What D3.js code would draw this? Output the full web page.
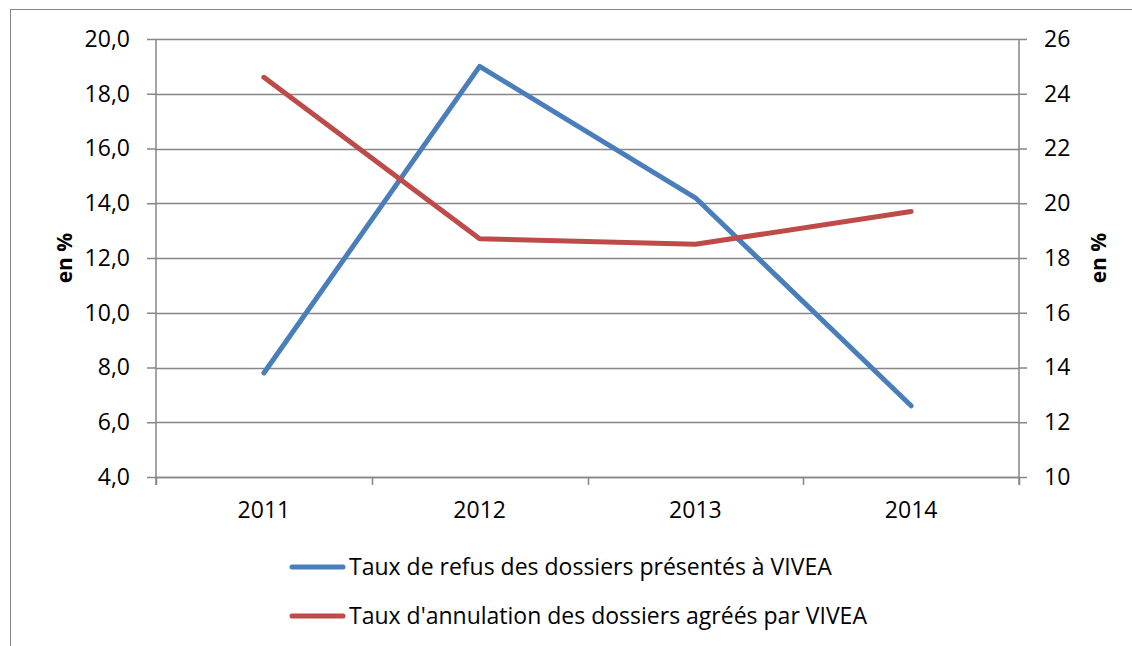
<!DOCTYPE html>
<html>
<head>
<meta charset="utf-8">
<script src="https://cdn.jsdelivr.net/npm/d3@7"></script>
<style>
  html, body { margin: 0; padding: 0; background: #fff; }
  svg { display: block; font-family: "Open Sans", sans-serif; }
</style>
</head>
<body>
<svg id="chart" width="1132" height="646"></svg>
<script>
// years on the x axis
const years = ["2011", "2012", "2013", "2014"];
// left axis series (en %)
const refus = [7.8, 19.0, 14.2, 6.6];
// right axis series (en %)
const annulation = [24.6, 18.7, 18.5, 19.7];
const leftTicks = [4, 6, 8, 10, 12, 14, 16, 18, 20];
const rightTicks = [10, 12, 14, 16, 18, 20, 22, 24, 26];
const seriesNames = [
  "Taux de refus des dossiers présentés à VIVEA",
  "Taux d'annulation des dossiers agréés par VIVEA",
];

const blue = "#4a7ebb";
const red = "#be4b48";
const gridColor = "#868686";

const svg = d3.select("#chart");
const plot = { left: 156, top: 39, right: 1019, bottom: 477 };

// outer frame of the chart area
svg.append("rect")
  .attr("x", 10.5).attr("y", 9.5)
  .attr("width", 1140).attr("height", 660)
  .attr("fill", "none")
  .attr("stroke", gridColor)
  .attr("stroke-width", 1);

const x = d3.scaleBand().domain(years).range([plot.left, plot.right]);
const yL = d3.scaleLinear().domain([4, 20]).range([plot.bottom, plot.top]);
const yR = d3.scaleLinear().domain([10, 26]).range([plot.bottom, plot.top]);

// horizontal gridlines
svg.append("g")
  .selectAll("line")
  .data(leftTicks)
  .enter()
  .append("line")
  .attr("x1", plot.left)
  .attr("x2", plot.right)
  .attr("y1", (d) => Math.round(yL(d)) + 0.5)
  .attr("y2", (d) => Math.round(yL(d)) + 0.5)
  .attr("stroke", gridColor)
  .attr("stroke-width", 1.5);

const fmt = (d) => d.toFixed(1).replace(".", ",");

// left axis
const leftAxis = svg.append("g")
  .attr("transform", `translate(${plot.left},0)`)
  .call(d3.axisLeft(yL).tickValues(leftTicks).tickFormat(fmt).tickSize(9).tickPadding(17));

// right axis
const rightAxis = svg.append("g")
  .attr("transform", `translate(${plot.right},0)`)
  .call(d3.axisRight(yR).tickValues(rightTicks).tickFormat(d3.format("d")).tickSize(8).tickPadding(17));

// bottom axis: ticks at category boundaries
const bottomAxis = svg.append("g")
  .attr("transform", `translate(0,${plot.bottom})`)
  .call(d3.axisBottom(x).tickSize(0).tickPadding(25));

svg.append("g")
  .selectAll("line")
  .data(years.map((d) => x(d)).concat([plot.right]))
  .enter()
  .append("line")
  .attr("x1", (d) => Math.round(d) + 0.5)
  .attr("x2", (d) => Math.round(d) + 0.5)
  .attr("y1", plot.bottom)
  .attr("y2", plot.bottom + 8)
  .attr("stroke", gridColor)
  .attr("stroke-width", 1.5);

[leftAxis, rightAxis, bottomAxis].forEach((g) => {
  g.selectAll(".domain").attr("stroke", gridColor).attr("stroke-width", 1.5);
  g.selectAll(".tick line").attr("stroke", gridColor).attr("stroke-width", 1.5);
  g.selectAll("text").attr("font-size", 23).attr("fill", "#000")
    .attr("font-family", "'Open Sans', sans-serif");
});
leftAxis.select(".domain").attr("d", `M0,${plot.top}V${plot.bottom + 8}`);
rightAxis.select(".domain").attr("d", `M0,${plot.top}V${plot.bottom + 8}`);

// axis titles
svg.append("text")
  .attr("transform", `translate(72,${(plot.top + plot.bottom) / 2}) rotate(-90)`)
  .attr("text-anchor", "middle")
  .attr("font-size", 21)
  .attr("font-weight", "bold")
  .text("en %");

svg.append("text")
  .attr("transform", `translate(1106,${(plot.top + plot.bottom) / 2}) rotate(-90)`)
  .attr("text-anchor", "middle")
  .attr("font-size", 21)
  .attr("font-weight", "bold")
  .text("en %");

const cx = (d) => x(d) + x.bandwidth() / 2;

// series lines
svg.append("path")
  .datum(refus)
  .attr("fill", "none")
  .attr("stroke", blue)
  .attr("stroke-width", 5)
  .attr("stroke-linecap", "round")
  .attr("stroke-linejoin", "round")
  .attr("d", d3.line().x((d, i) => cx(years[i])).y((d) => yL(d)));

svg.append("path")
  .datum(annulation)
  .attr("fill", "none")
  .attr("stroke", red)
  .attr("stroke-width", 5)
  .attr("stroke-linecap", "round")
  .attr("stroke-linejoin", "round")
  .attr("d", d3.line().x((d, i) => cx(years[i])).y((d) => yR(d)));

// legend
const legend = svg.append("g")
  .selectAll("g")
  .data(seriesNames)
  .enter()
  .append("g")
  .attr("transform", (d, i) => `translate(0,${567 + i * 49})`);

legend.append("line")
  .attr("x1", 292).attr("x2", 343)
  .attr("stroke", (d, i) => (i === 0 ? blue : red))
  .attr("stroke-width", 5)
  .attr("stroke-linecap", "round");

legend.append("text")
  .attr("x", 349)
  .attr("dy", "0.35em")
  .attr("font-size", 23)
  .text((d) => d);
</script>
</body>
</html>
